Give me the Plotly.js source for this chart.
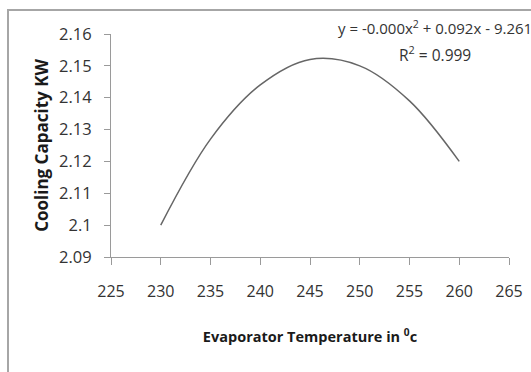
<!DOCTYPE html>
<html>
<head>
<meta charset="utf-8">
<script src="https://cdn.plot.ly/plotly-3.0.1.min.js"></script>
<style>
  html, body { margin: 0; padding: 0; background: #ffffff; overflow: hidden; }
  #wrap { position: relative; width: 531px; height: 372px; }
  #chart { position: absolute; left: 0; top: 0; width: 531px; height: 372px; }
  /* chart-area frame: only the top and left edges fall inside the view */
  #frame { position: absolute; left: 7px; top: 9px; width: 540px; height: 380px;
           border-top: 2px solid #a6a6a6; border-left: 2px solid #a6a6a6; pointer-events: none; }
</style>
</head>
<body>
<div id="wrap">
  <div id="chart"></div>
  <div id="frame"></div>
</div>
<script>
// Evaporator temperature (x) and cooling capacity in kW (y)
const evapTemp = [230, 235, 240, 245, 250, 255, 260];
const coolingKW = [2.100, 2.127, 2.144, 2.152, 2.150, 2.139, 2.120];

// Axis ticks
const xTicks = [225, 230, 235, 240, 245, 250, 255, 260, 265];
const yTicks = [2.09, 2.10, 2.11, 2.12, 2.13, 2.14, 2.15, 2.16];
const yTickText = ['2.09', '2.1', '2.11', '2.12', '2.13', '2.14', '2.15', '2.16'];

// Trendline label
const trendEq = 'y = -0.000x<sup>2</sup> + 0.092x - 9.261';
const trendR2 = 'R<sup>2</sup> = 0.999';

const FONT = '"Open Sans", "Noto Sans", sans-serif';
const TXT = '#333333';
const AXIS = '#9a9a9a';

const trace = {
  x: evapTemp,
  y: coolingKW,
  type: 'scatter',
  mode: 'lines',
  line: { color: '#666666', width: 1.5, shape: 'spline', smoothing: 1 },
  hoverinfo: 'skip'
};

const layout = {
  width: 531,
  height: 372,
  margin: { l: 111, r: 22, t: 34, b: 115 },
  paper_bgcolor: '#ffffff',
  plot_bgcolor: '#ffffff',
  showlegend: false,
  font: { family: FONT, color: TXT, size: 15 },
  xaxis: {
    range: [225, 265],
    tickvals: xTicks,
    ticktext: xTicks.map(String),
    ticks: 'outside',
    ticklen: 7,
    tickcolor: AXIS,
    tickwidth: 1,
    showline: true,
    linecolor: AXIS,
    linewidth: 1,
    showgrid: false,
    zeroline: false,
    tickfont: { family: FONT, size: 16, color: TXT },
    ticklabelstandoff: 13,
    title: {
      text: '<b>Evaporator Temperature in <sup>0</sup>c</b>',
      font: { family: FONT, size: 14.5, color: '#1a1a1a' },
      standoff: 30
    }
  },
  yaxis: {
    range: [2.09, 2.16],
    tickvals: yTicks,
    ticktext: yTickText,
    ticks: 'outside',
    ticklen: 6,
    tickcolor: AXIS,
    tickwidth: 1,
    showline: true,
    linecolor: AXIS,
    linewidth: 1,
    showgrid: false,
    zeroline: false,
    tickfont: { family: FONT, size: 16.5, color: TXT },
    ticklabelstandoff: 9,
    title: {
      text: '<b>Cooling Capacity KW</b>',
      font: { family: FONT, size: 17, color: '#1a1a1a' },
      standoff: 6
    }
  },
  annotations: [
    {
      xref: 'paper', yref: 'paper',
      x: 0.566, y: 1.03, xanchor: 'left', yanchor: 'middle',
      text: trendEq, showarrow: false,
      font: { family: FONT, size: 15, color: TXT }
    },
    {
      xref: 'paper', yref: 'paper',
      x: 0.815, y: 0.91, xanchor: 'center', yanchor: 'middle',
      text: trendR2, showarrow: false,
      font: { family: FONT, size: 15.5, color: TXT }
    }
  ]
};

Plotly.newPlot('chart', [trace], layout, { staticPlot: true, displayModeBar: false });
</script>
</body>
</html>
